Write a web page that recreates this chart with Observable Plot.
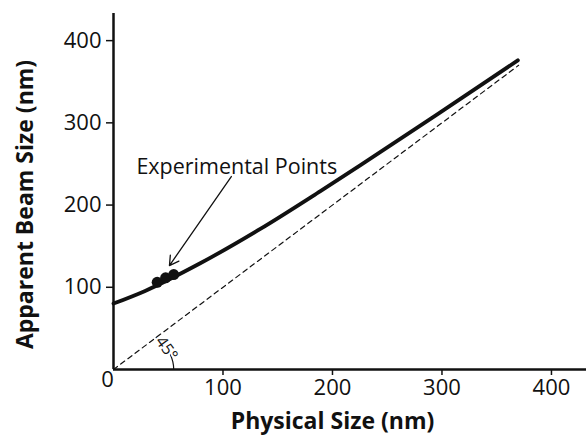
<!DOCTYPE html>
<html>
<head>
<meta charset="utf-8">
<script src="https://cdn.jsdelivr.net/npm/d3@7"></script>
<script src="https://cdn.jsdelivr.net/npm/@observablehq/plot@0.6"></script>
<style>
  html, body { margin: 0; padding: 0; background: #fff; }
  #chart svg { display: block; }
</style>
</head>
<body>
<div id="chart"></div>
<script>
// Model curve
const curveX = [0, 28.9, 79.2, 134.1, 189.0, 225.6, 298.8, 369.3];
const curveY = [80.2, 95.6, 129.2, 171.0, 217.0, 248.5, 313.0, 376.0];

// Experimental points
const expX = [39.9, 47.6, 55.0];
const expY = [106.0, 111.5, 115.5];

// 45° reference line endpoints
const refX = [0, 370];
const refY = [0, 370];

// Tick values
const xTicks = [100, 200, 300, 400];
const yTicks = [100, 200, 300, 400];

// Annotation
const annotText = ["Experimental Points"];
const arcAngles = [0, 5, 10, 15, 20, 25, 30, 35, 40, 45];

const curve = curveX.map((x, i) => ({x, y: curveY[i]}));
const points = expX.map((x, i) => ({x, y: expY[i]}));
const ref = refX.map((x, i) => ({x, y: refY[i]}));
const arcR = 55;
const arc = arcAngles.map(a => ({x: arcR * Math.cos(a * Math.PI / 180), y: arcR * Math.sin(a * Math.PI / 180)}));

const font = "'Open Sans', Lato, sans-serif";

const chart = Plot.plot({
  width: 586,
  height: 436,
  marginLeft: 113,
  marginRight: 0,
  marginTop: 13,
  marginBottom: 67,
  style: {fontFamily: font, background: "white", color: "#111"},
  x: {domain: [0, 432]},
  y: {domain: [0, 433]},
  marks: [
    Plot.axisX(xTicks, {tickSize: 6, tickPadding: 4, fontSize: 22, label: null, strokeWidth: 1.5}),
    Plot.axisY(yTicks, {tickSize: 7, tickPadding: 5, fontSize: 22, label: null, strokeWidth: 1.5}),
    Plot.text([0], {x: d => d, frameAnchor: "bottom", dy: 17, dx: -6, text: d => String(d), fontSize: 22}),
    Plot.line(ref, {x: "x", y: "y", stroke: "#111", strokeWidth: 1.2, strokeDasharray: "5,4"}),
    Plot.line(arc, {x: "x", y: "y", stroke: "#111", strokeWidth: 1.2}),
    Plot.text(["45°"], {x: 48.5, y: 25.5, text: d => d, rotate: 54, fontSize: 16, stroke: "white", strokeWidth: 4, fill: "#111"}),
    Plot.line(curve, {x: "x", y: "y", stroke: "#111", strokeWidth: 3.8, curve: "monotone-x"}),
    Plot.dot(points, {x: "x", y: "y", r: 5.5, fill: "#111"}),
    Plot.arrow([{x1: 107.6, y1: 234.7, x2: 51.1, y2: 126.4}], {x1: "x1", y1: "y1", x2: "x2", y2: "y2", stroke: "#111", strokeWidth: 1.3, headLength: 12}),
    Plot.text(annotText, {x: 112.6, y: 246.2, text: d => d, fontSize: 21.5, fill: "#111"}),
    Plot.ruleX([0], {stroke: "#111", strokeWidth: 2.5}),
    Plot.ruleY([0], {stroke: "#111", strokeWidth: 2.5}),
    Plot.text(["Physical Size (nm)"], {frameAnchor: "bottom", x: 200, dy: 59, text: d => d, fontSize: 23, fontWeight: "bold", fill: "#111"}),
    Plot.text(["Apparent Beam Size (nm)"], {frameAnchor: "left", textAnchor: "middle", dx: -88, dy: 13, rotate: -90, text: d => d, fontSize: 23, fontWeight: "bold", fill: "#111"})
  ]
});

document.getElementById("chart").appendChild(chart);
</script>
</body>
</html>
